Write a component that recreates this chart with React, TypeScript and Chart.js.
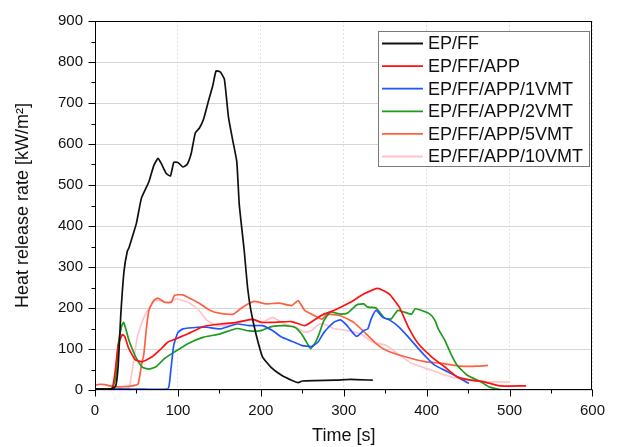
import { useEffect, useRef } from "react";
import { Chart, registerables } from "chart.js";

Chart.register(...registerables);

// ---- Data (time in s, heat release rate in kW/m²) ----
const epffTime = [0, 10, 20, 25, 28, 31, 35, 39, 41, 46, 50, 56, 65, 71, 76, 80, 86, 91, 95, 100, 106, 111, 116, 121, 126, 131, 137, 142, 146, 151, 156, 161, 166, 171, 174, 180, 184, 188, 194, 202, 212, 225, 237, 245, 250, 265, 290, 308, 335];
const epffHrr = [3, 3, 3, 10, 60, 180, 290, 339, 347, 380, 407, 468, 508, 548, 565, 552, 528, 522, 555, 555, 544, 550, 577, 627, 639, 661, 706, 742, 778, 776, 758, 665, 610, 557, 452, 339, 250, 194, 138, 81, 56, 36, 24, 18, 22, 23, 24, 26, 24];

const appTime = [0, 20, 24, 28, 33, 36, 40, 45, 49, 57, 69, 78, 88, 98, 112, 131, 151, 171, 190, 200, 214, 237, 253, 269, 276, 288, 308, 324, 341, 355, 367, 378, 390, 406, 422, 437, 453, 469, 488, 520];
const appHrr = [2, 2, 40, 110, 135, 130, 105, 85, 73, 69, 81, 97, 117, 125, 137, 155, 161, 165, 173, 165, 165, 167, 157, 177, 185, 194, 214, 234, 248, 234, 202, 153, 113, 81, 56, 32, 24, 20, 10, 10];

const vmt1Time = [0, 30, 60, 88, 91, 95, 100, 106, 124, 135, 151, 171, 186, 202, 214, 225, 237, 249, 261, 269, 276, 288, 296, 304, 312, 316, 324, 329, 333, 339, 347, 355, 367, 378, 390, 402, 410, 426, 437, 451];
const vmt1Hrr = [3, 3, 2, 3, 40, 110, 140, 149, 153, 153, 149, 161, 157, 157, 145, 129, 119, 109, 106, 117, 140, 165, 171, 157, 137, 131, 145, 149, 173, 194, 177, 171, 153, 129, 101, 75, 60, 44, 32, 16];

const vmt2Time = [0, 20, 25, 28, 32, 34.5, 37, 41, 45, 49, 57, 65, 73, 84, 96, 112, 131, 151, 171, 186, 200, 214, 229, 241, 249, 255, 260, 265, 270, 276, 284, 296, 304, 316, 324, 329, 339, 349, 357, 365, 373, 382, 386, 394, 404, 410, 414, 422, 429, 437, 449, 465, 476, 490];
const vmt2Hrr = [3, 3, 30, 110, 155, 165, 150, 121, 100, 81, 56, 51, 56, 77, 93, 113, 129, 137, 150, 144, 145, 155, 157, 153, 137, 117, 101, 113, 135, 169, 190, 185, 187, 208, 210, 202, 200, 176, 173, 194, 190, 185, 198, 194, 185, 170, 149, 121, 89, 60, 36, 20, 7, 0];

const vmt5Time = [0, 6, 12, 18, 25, 35, 45, 52, 56, 59, 62, 65, 71, 76, 84, 92, 96, 106, 116, 127, 139, 151, 167, 178, 192, 206, 222, 237, 245, 253, 265, 274, 280, 296, 312, 327, 339, 351, 374, 398, 418, 441, 461, 474];
const vmt5Hrr = [12, 14, 13, 10, 8, 8, 10, 15, 60, 89, 150, 194, 219, 224, 214, 214, 231, 232, 222, 210, 194, 187, 185, 202, 216, 210, 212, 206, 218, 194, 181, 173, 185, 181, 165, 137, 113, 97, 81, 69, 65, 58, 58, 60];

const vmt10Time = [0, 30, 38, 41, 45, 51, 59, 67, 73, 88, 98, 112, 124, 135, 147, 159, 174, 190, 202, 214, 229, 243, 253, 261, 271, 280, 288, 304, 320, 335, 351, 367, 382, 406, 429, 453, 473, 500];
const vmt10Hrr = [2, 2, 3, 8, 48, 129, 177, 206, 219, 214, 222, 214, 198, 170, 157, 157, 165, 171, 165, 177, 161, 153, 141, 145, 161, 158, 150, 145, 137, 117, 109, 85, 65, 48, 32, 24, 20, 20];

const seriesLabels = ["EP/FF", "EP/FF/APP", "EP/FF/APP/1VMT", "EP/FF/APP/2VMT", "EP/FF/APP/5VMT", "EP/FF/APP/10VMT"];
const seriesColors = ["#111111", "#ff1010", "#2255ff", "#1e9a1e", "#ff6040", "#ffc4cc"];
const seriesTimes = [epffTime, appTime, vmt1Time, vmt2Time, vmt5Time, vmt10Time];
const seriesValues = [epffHrr, appHrr, vmt1Hrr, vmt2Hrr, vmt5Hrr, vmt10Hrr];

const xMin = 0, xMax = 600, xStep = 100, xMinor = 50;
const yMin = 0, yMax = 900, yStep = 100, yMinor = 50;

const FONT = "'Liberation Sans', Arial, Helvetica, sans-serif";

const frameAndTicks = {
  id: "frameAndTicks",
  afterDatasetsDraw(chart: any) {
    const { ctx, chartArea: a, scales } = chart;
    const x = scales.x, y = scales.y;
    ctx.save();
    ctx.strokeStyle = "#000";
    ctx.lineWidth = 1;
    const L = Math.round(a.left) + 0.5, R = Math.round(a.right) - 0.5;
    const T = Math.round(a.top) + 0.5, B = Math.round(a.bottom) - 0.5;
    ctx.strokeRect(L, T, R - L, B - T);
    ctx.beginPath();
    for (let v = xMin; v <= xMax; v += xMinor) {
      const px = Math.round(x.getPixelForValue(v)) + 0.5;
      const len = v % xStep === 0 ? 7 : 4;
      ctx.moveTo(px, B);
      ctx.lineTo(px, B + len);
    }
    for (let v = yMin; v <= yMax; v += yMinor) {
      const py = Math.round(y.getPixelForValue(v)) + 0.5;
      const len = v % yStep === 0 ? 7 : 4;
      ctx.moveTo(L, py);
      ctx.lineTo(L - len, py);
    }
    ctx.stroke();
    ctx.restore();
  },
  afterDraw(chart: any) {
    const { ctx } = chart;
    const box = { left: 378.5, top: 31.5, width: 211, height: 135 };
    ctx.save();
    ctx.fillStyle = "#fff";
    ctx.fillRect(box.left, box.top, box.width, box.height);
    ctx.strokeStyle = "#7a7a7a";
    ctx.lineWidth = 1;
    ctx.strokeRect(box.left, box.top, box.width, box.height);
    ctx.font = `18px ${FONT}`;
    ctx.textBaseline = "middle";
    ctx.textAlign = "left";
    chart.data.datasets.forEach((ds: any, i: number) => {
      const cy = 43.5 + i * 22.6;
      ctx.strokeStyle = ds.borderColor;
      ctx.lineWidth = 1.8;
      ctx.beginPath();
      ctx.moveTo(382, cy);
      ctx.lineTo(423, cy);
      ctx.stroke();
      ctx.fillStyle = "#111";
      ctx.fillText(ds.label, 428, cy + 1);
    });
    ctx.restore();
  },
};

export default function App() {
  const ref = useRef<HTMLCanvasElement | null>(null);
  useEffect(() => {
    if (!ref.current) return;
    const datasets = seriesLabels.map((label, i) => ({
      label,
      data: seriesTimes[i].map((t, j) => ({ x: t, y: seriesValues[i][j] })),
      borderColor: seriesColors[i],
      backgroundColor: seriesColors[i],
      borderWidth: 1.7,
      pointRadius: 0,
      tension: 0.15,
      fill: false,
    }));
    const chart = new Chart(ref.current, {
      type: "line",
      data: { datasets },
      plugins: [frameAndTicks],
      options: {
        animation: false,
        responsive: false,
        devicePixelRatio: 1,
        layout: { padding: { left: 0, right: 12, top: 18, bottom: 0 } },
        plugins: { legend: { display: false }, tooltip: { enabled: false } },
        scales: {
          x: {
            type: "linear",
            min: xMin,
            max: xMax,
            afterFit: (s: any) => { s.height = 57; },
            ticks: { stepSize: xStep, padding: 12, color: "#111", font: { family: FONT, size: 15 } },
            grid: { color: "#e2e2e2", drawTicks: false, lineWidth: 1 },
            border: { display: false, dash: [2, 2] },
            title: { display: true, text: "Time [s]", color: "#111", font: { family: FONT, size: 18 }, padding: { top: 0, bottom: 0 } },
          },
          y: {
            type: "linear",
            min: yMin,
            max: yMax,
            afterFit: (s: any) => { s.width = 95; },
            ticks: { stepSize: yStep, padding: 12, color: "#111", font: { family: FONT, size: 15 } },
            grid: { color: "#d6d6d6", drawTicks: false, lineWidth: 1 },
            border: { display: false },
            title: { display: true, text: "Heat release rate [kW/m²]", color: "#111", font: { family: FONT, size: 18 }, padding: { top: 12, bottom: 0 } },
          },
        },
      },
    });
    return () => chart.destroy();
  }, []);
  return (
    <div style={{ position: "fixed", left: 0, top: 0, width: 617, height: 447, background: "#fff" }}>
      <canvas ref={ref} width={617} height={447} style={{ width: 617, height: 447, display: "block" }} />
    </div>
  );
}
